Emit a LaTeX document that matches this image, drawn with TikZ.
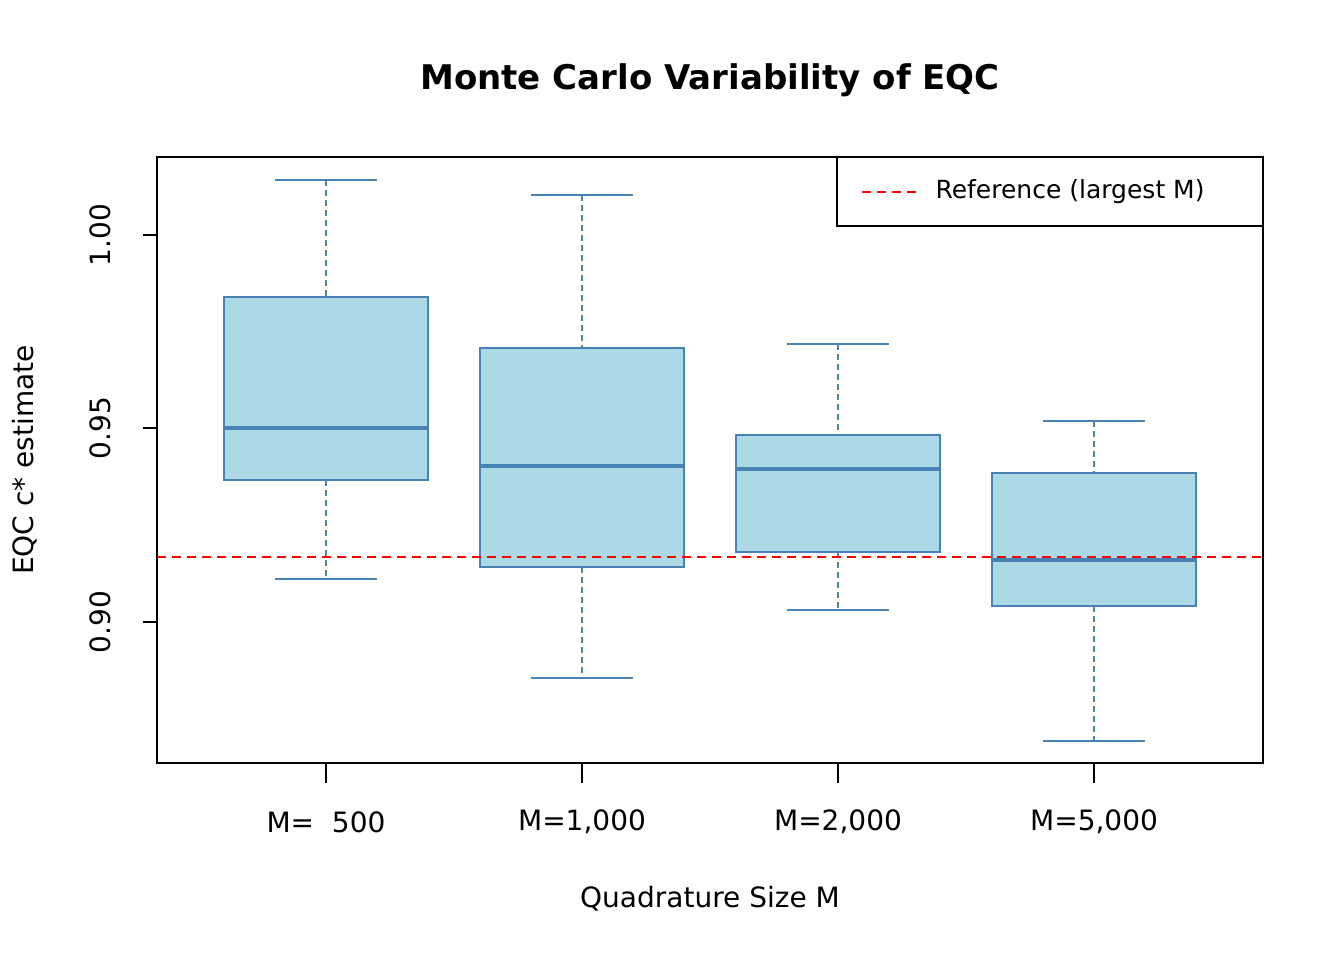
\documentclass[tikz,border=0pt]{standalone}
\usepackage{fontspec}
\setmainfont{DejaVu Sans}
\definecolor{boxfill}{HTML}{ADD8E6}
\definecolor{boxline}{HTML}{4682B4}
\begin{document}
\begin{tikzpicture}[x=1pt,y=-1pt,
  box/.style={draw=boxline,fill=boxfill,line width=1.3pt},
  median/.style={draw=boxline,line width=4.5pt},
  whisker/.style={draw=boxline,line width=1.3pt,dash pattern=on 6pt off 4pt},
  whiskcap/.style={draw=boxline,line width=1.3pt},
  refline/.style={draw=red,line width=2pt,dash pattern=on 9pt off 6pt},
  lab/.style={font=\fontsize{28}{30}\selectfont},
  frame/.style={draw=black,line width=1.3pt}]
\useasboundingbox (0,0) rectangle (1344,960);

\node[font=\fontsize{34}{36}\selectfont\bfseries] (title) at (710,80) {Monte Carlo Variability of EQC};

% boxes: x / whisker top / Q3 / median / Q1 / whisker bottom / label
\foreach \x/\wt/\qt/\md/\qb/\wb/\lbl [count=\i] in
  {326/180/297/428/480/579/{M=\ \ 500},
   582/195/348/466/567/678/{M=1,000},
   838/344/435/469/552/610/{M=2,000},
   1094/421/473/560/606/741/{M=5,000}}{
  \draw[whisker] (\x,\wt) -- (\x,\qt);
  \draw[whisker] (\x,\qb) -- (\x,\wb);
  \draw[whiskcap] (\x-51,\wt) -- (\x+51,\wt);
  \draw[whiskcap] (\x-51,\wb) -- (\x+51,\wb);
  \draw[box] (\x-102,\qt) rectangle (\x+102,\qb);
  \draw[median] (\x-102,\md) -- (\x+102,\md);
  \draw[frame] (\x,763) -- (\x,783);
  \node[lab] (xt\i) at (\x,822) {\lbl};
}

\coordinate (refL) at (157,557);
\coordinate (refR) at (1263,557);
\draw[refline] (refL) -- (refR);

% axes
\draw[frame] (157,157) rectangle (1263,763);
\foreach \y/\v [count=\j] in {235/1.00,428/0.95,622/0.90}{
  \draw[frame] (157,\y) -- (143,\y);
  \node[lab,rotate=90] (yt\j) at (100,\y) {\v};
}
\node[lab] (xlab) at (710,899) {Quadrature Size M};
\node[lab,rotate=90] (ylab) at (25,460) {EQC c* estimate};

% legend
\draw[frame,fill=white] (837,157) rectangle (1263,226);
\coordinate (legA) at (862,192);
\coordinate (legB) at (918,192);
\draw[refline] (legA) -- (legB);
\node[font=\fontsize{25}{27}\selectfont,anchor=west] (legtxt) at (932,192) {Reference (largest M)};
\end{tikzpicture}
\end{document}
